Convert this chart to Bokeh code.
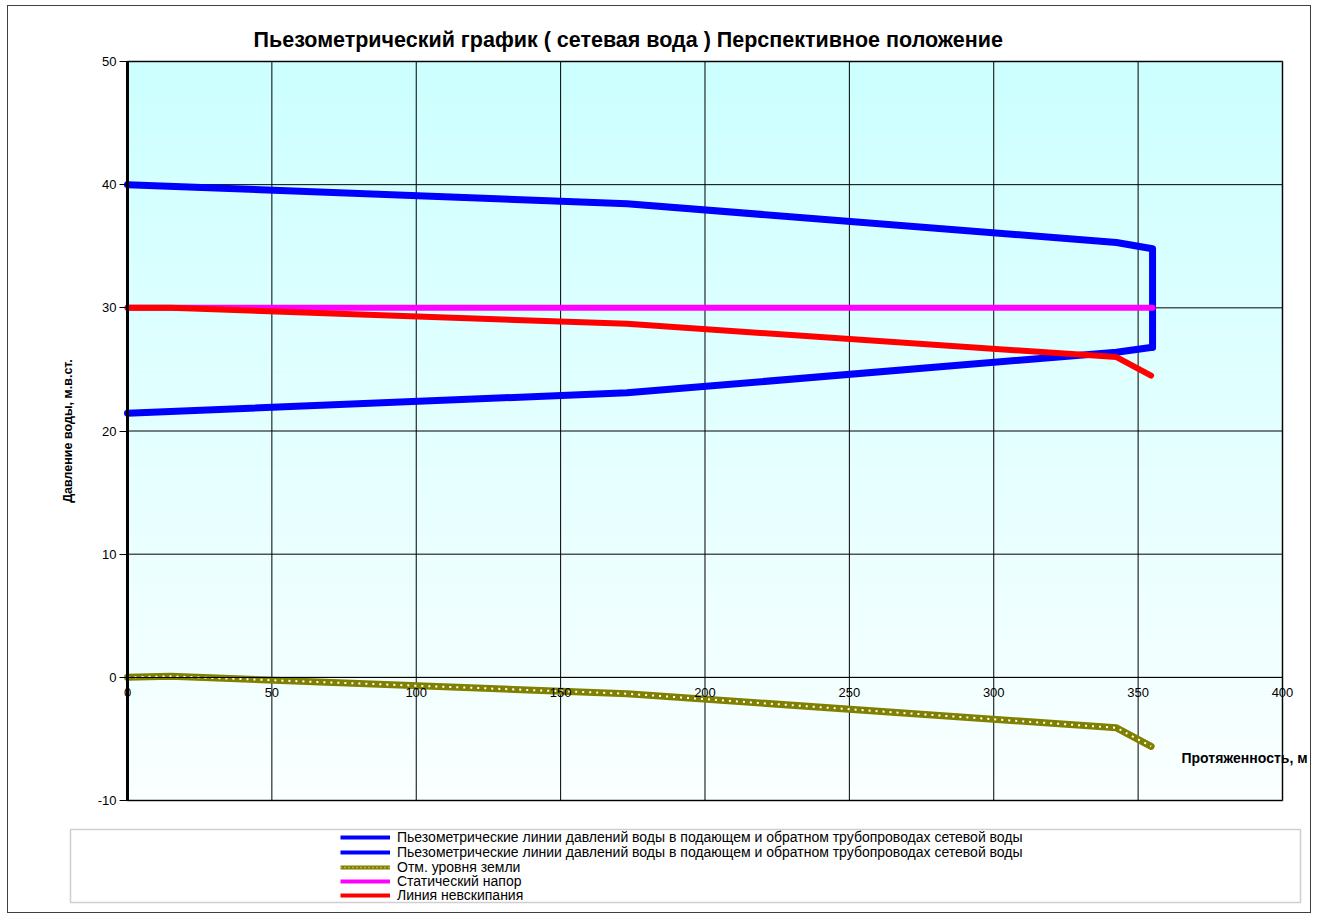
from bokeh.plotting import figure
from bokeh.models import (ColumnDataSource, Legend, LegendItem, BoxAnnotation, Label,
                          SingleIntervalTicker, Range1d)
from bokeh.embed import file_html
from bokeh.resources import INLINE

# ---- data ----
supply_x = [0, 173, 342.5, 355, 355]
supply_y = [40.0, 38.45, 35.3, 34.8, 26.8]
return_x = [0, 173, 342.5, 355]
return_y = [21.45, 23.1, 26.4, 26.8]
ground_x = [0, 15, 173, 342.5, 354.5]
ground_y = [0.0, 0.08, -1.33, -4.1, -5.6]
static_x = [0, 355]
static_y = [30.0, 30.0]
boil_x = [0, 15, 173, 342.5, 354.5]
boil_y = [30.0, 30.0, 28.7, 26.0, 24.5]

x_ticks = [0, 50, 100, 150, 200, 250, 300, 350, 400]
y_ticks = [-10, 0, 10, 20, 30, 40, 50]

label_pz = "Пьезометрические линии давлений воды в подающем и обратном трубопроводах сетевой воды"
label_ground = "Отм. уровня земли"
label_static = "Статический напор"
label_boil = "Линия невскипания"
title_text = "Пьезометрический график  ( сетевая вода ) Перспективное положение"
y_title = "Давление воды, м.в.ст."
x_title = "Протяженность, м"

FONT = "Liberation Sans"
X0, X1 = x_ticks[0], x_ticks[-1]
Y0, Y1 = y_ticks[0], y_ticks[-1]

# frame covers the whole chart area so nothing outside the plot box gets clipped
p = figure(width=1304, height=908,
           x_range=Range1d(-30.13, 409.7), y_range=Range1d(-18.93, 50.893),
           output_backend="svg", toolbar_location=None,
           min_border_left=32, min_border_right=2, min_border_top=44, min_border_bottom=4)
p.margin = (5, 0, 0, 7)
p.styles = {"border": "1px solid #404040"}
p.background_fill_color = "#ffffff"
p.border_fill_color = "#ffffff"
p.outline_line_color = None
p.grid.visible = False

# gradient background of the plot box (decoration)
n = 120
for i in range(n):
    t = i / (n - 1)
    r = int(round(250 + (204 - 250) * t))
    col = "#%02x%02x%02x" % (r, 255, 255)
    b = Y0 + (Y1 - Y0) * i / n
    tp = Y0 + (Y1 - Y0) * (i + 1) / n
    p.add_layout(BoxAnnotation(left=X0, right=X1, bottom=b, top=tp + 0.02,
                               fill_color=col, fill_alpha=1, line_alpha=0, level="image"))

# grid lines limited to the plot box
p.segment(x0=[X0] * len(y_ticks), x1=[X1] * len(y_ticks), y0=y_ticks, y1=y_ticks,
          line_color="black", line_width=1, level="underlay")
p.segment(x0=x_ticks, x1=x_ticks, y0=[Y0] * len(x_ticks), y1=[Y1] * len(x_ticks),
          line_color="black", line_width=1, level="underlay")

# title
p.title.text = title_text
p.title.align = "left"
p.title.offset = 213
p.title.text_font = FONT
p.title.text_font_size = "21.5px"
p.title.text_font_style = "bold"
p.title.text_color = "black"
p.title.standoff = -2

# axes
p.xaxis.ticker = SingleIntervalTicker(interval=50)
p.yaxis.ticker = SingleIntervalTicker(interval=10)
p.xaxis.fixed_location = 0
p.yaxis.fixed_location = 0
p.xaxis.bounds = (X0, X1)
p.yaxis.bounds = (Y0, Y1)
p.xaxis.axis_line_color = "black"
p.xaxis.major_tick_in = 0
p.xaxis.major_tick_out = 0
p.xaxis.minor_tick_line_color = None
p.xaxis.major_label_standoff = 7
p.yaxis.axis_line_width = 3
p.yaxis.major_tick_in = 0
p.yaxis.major_tick_out = 8
p.yaxis.minor_tick_line_color = None
p.yaxis.major_label_standoff = 3
p.yaxis.major_label_overrides = {-10: "-10"}
p.yaxis.axis_label = y_title
p.yaxis.axis_label_text_font = FONT
p.yaxis.axis_label_text_font_size = "12.5px"
p.yaxis.axis_label_text_font_style = "bold"
p.yaxis.axis_label_text_color = "black"
p.yaxis.axis_label_standoff = 20
for ax in (p.xaxis, p.yaxis):
    ax.major_label_text_font = FONT
    ax.major_label_text_font_size = "13px"
    ax.major_label_text_color = "black"

# data lines
p.line(supply_x, supply_y, line_color="#0000ff", line_width=7, line_join="round", line_cap="round")
p.line(return_x, return_y, line_color="#0000ff", line_width=7, line_join="round", line_cap="round")
p.line(static_x, static_y, line_color="#ff00ff", line_width=6, line_join="round", line_cap="round")
p.line(boil_x, boil_y, line_color="#ff0000", line_width=6, line_join="round", line_cap="round")
p.line(ground_x, ground_y, line_color="#808000", line_width=7, line_join="round", line_cap="round")
p.line(ground_x, ground_y, line_color="white", line_width=2, line_dash="2 5", line_join="round")

# plot box border
p.add_layout(BoxAnnotation(left=X0, right=X1, bottom=Y0, top=Y1, fill_alpha=0,
                           line_color="black", line_width=2.5, level="annotation"))

# legend proxies (a single NaN point: nothing drawn in the plot)
def proxy(**kw):
    return p.line("x", "y", source=ColumnDataSource(dict(x=[float("nan")], y=[float("nan")])), **kw)

lg_s = proxy(line_color="#0000ff", line_width=4)
lg_r = proxy(line_color="#0000ff", line_width=4)
lg_g1 = proxy(line_color="#808000", line_width=4)
lg_g2 = proxy(line_color="#e8e8a0", line_width=1.5, line_dash="1 3")
lg_st = proxy(line_color="#ff00ff", line_width=4)
lg_b = proxy(line_color="#ff0000", line_width=4)

rows = [(label_pz, [lg_s]), (label_pz, [lg_r]), (label_ground, [lg_g1, lg_g2]),
        (label_static, [lg_st]), (label_boil, [lg_b])]
row_bottoms = [65, 50, 35, 21, 7]
for (lab, rends), yb in zip(rows, row_bottoms):
    lg = Legend(items=[LegendItem(label=lab, renderers=rends)], location=(300, yb),
                padding=0, margin=0, spacing=0, glyph_width=50, glyph_height=16,
                label_height=16, label_standoff=7, label_text_font=FONT,
                label_text_font_size="14px", label_text_color="black",
                border_line_alpha=0, background_fill_alpha=0)
    p.add_layout(lg)

p.add_layout(BoxAnnotation(left=30, right=1260, top=81, bottom=8,
                           left_units="screen", right_units="screen",
                           top_units="screen", bottom_units="screen",
                           fill_alpha=0, line_color="#606060", line_width=1.5, level="overlay"))

p.add_layout(Label(x=1141, y=153, x_units="screen", y_units="screen", text=x_title,
                   text_font=FONT, text_font_size="14px", text_font_style="bold",
                   text_color="black", text_baseline="middle", text_align="left"))

open("out.html", "w").write(file_html(p, INLINE))
